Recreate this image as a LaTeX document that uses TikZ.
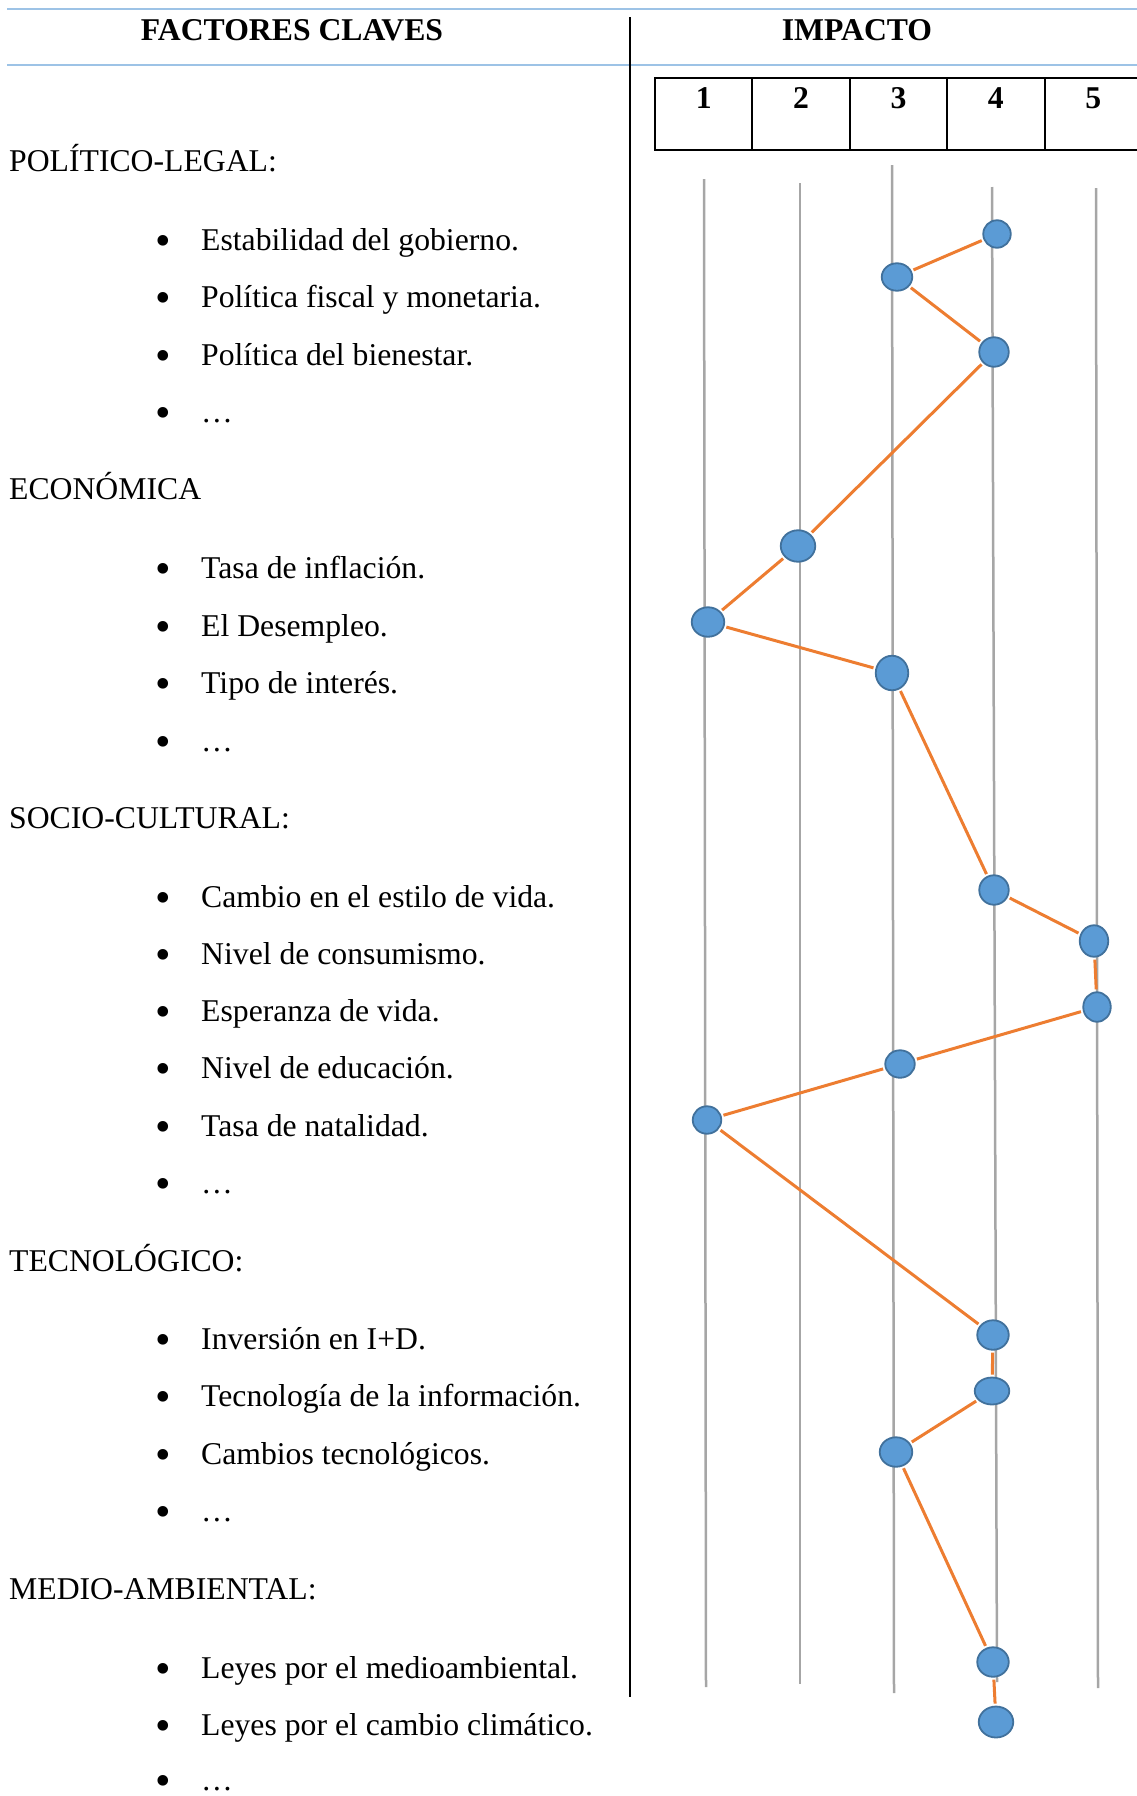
\documentclass[tikz,border=0pt]{standalone}
\usepackage{fontspec}
\setmainfont{Liberation Serif}
\usetikzlibrary{positioning}
\usetikzlibrary{shapes.geometric}

\definecolor{headblue}{HTML}{9DC3E6}
\definecolor{dotblue}{HTML}{5B9BD5}
\definecolor{dotedge}{HTML}{41719C}
\definecolor{linkorange}{HTML}{ED7D31}
\definecolor{gridgray}{HTML}{A6A6A6}

\newcommand{\blt}{\makebox[46pt][l]{\raisebox{-5pt}{\scalebox{1.4}{\textbullet}}}}

\begin{document}
\begin{tikzpicture}[x=1pt, y=-1pt,
    every node/.style={font=\fontsize{31.7}{38}\selectfont},
    heading/.style={anchor=base west, inner sep=0pt},
    item/.style={anchor=base west, inner sep=0pt},
    title/.style={anchor=base, inner sep=0pt, font=\fontsize{31.7}{38}\selectfont\bfseries},
    cell/.style={rectangle, draw=black, line width=2pt, outer sep=0pt, inner sep=0pt,
        minimum width=97.4pt, minimum height=72pt, text height=30pt, text depth=42pt,
        font=\fontsize{31.7}{38}\selectfont\bfseries},
    impdot/.style 2 args={ellipse, draw=dotedge, line width=1.8pt, fill=dotblue,
        minimum width=#1, minimum height=#2, inner sep=0pt},
    link/.style={draw=linkorange, line width=3pt, shorten <=2pt, shorten >=2pt},
    gridline/.style={draw=gridgray, line width=2.5pt},
    rule/.style={draw=headblue, line width=2.2pt}]
    \useasboundingbox (0,0) rectangle (1137,1796);

    % table head
    \draw [rule] (7,9) -- (1137,9);
    \draw [rule] (7,65) -- (1137,65);
    \draw [black, line width=1.5pt] (630,17) -- (630,1697);
    \node (factores) [title] at (292,40) {FACTORES CLAVES};
    \node (impacto) [title] at (857,40) {IMPACTO};

    % scale 1..5
    \node (c1) [cell] at (703.7,114) {1};
    \node (c2) [cell, right=0pt of c1] {2};
    \node (c3) [cell, right=0pt of c2] {3};
    \node (c4) [cell, right=0pt of c3] {4};
    \node (c5) [cell, right=0pt of c4] {5};

    % factors
    \node (hPL) [heading] at (9,171) {POLÍTICO-LEGAL:};
    \node (pl1) [item] at (155,250) {\blt Estabilidad del gobierno.};
    \node (pl2) [item] at (155,307.5) {\blt Política fiscal y monetaria.};
    \node (pl3) [item] at (155,365) {\blt Política del bienestar.};
    \node (pl4) [item] at (155,422.5) {\blt …};

    \node (hEC) [heading] at (9,499.5) {ECONÓMICA};
    \node (ec1) [item] at (155,578.5) {\blt Tasa de inflación.};
    \node (ec2) [item] at (155,636) {\blt El Desempleo.};
    \node (ec3) [item] at (155,693.5) {\blt Tipo de interés.};
    \node (ec4) [item] at (155,751) {\blt …};

    \node (hSC) [heading] at (9,828) {SOCIO-CULTURAL:};
    \node (sc1) [item] at (155,907) {\blt Cambio en el estilo de vida.};
    \node (sc2) [item] at (155,964) {\blt Nivel de consumismo.};
    \node (sc3) [item] at (155,1021) {\blt Esperanza de vida.};
    \node (sc4) [item] at (155,1078) {\blt Nivel de educación.};
    \node (sc5) [item] at (155,1136) {\blt Tasa de natalidad.};
    \node (sc6) [item] at (155,1193.5) {\blt …};

    \node (hTE) [heading] at (9,1271) {TECNOLÓGICO:};
    \node (te1) [item] at (155,1349) {\blt Inversión en I+D.};
    \node (te2) [item] at (155,1406.5) {\blt Tecnología de la información.};
    \node (te3) [item] at (155,1464) {\blt Cambios tecnológicos.};
    \node (te4) [item] at (155,1521.5) {\blt …};

    \node (hMA) [heading] at (9,1599) {MEDIO-AMBIENTAL:};
    \node (ma1) [item] at (155,1678) {\blt Leyes por el medioambiental.};
    \node (ma2) [item] at (155,1735.5) {\blt Leyes por el cambio climático.};
    \node (ma3) [item] at (155,1790) {\blt …};

    % impact scale lines
    \draw [gridline] (704,179) -- (706,1687);
    \draw [gridline] (800,183) -- (800,1684);
    \draw [gridline] (892,165) -- (894,1693);
    \draw [gridline] (992,187) -- (997,1682);
    \draw [gridline] (1096,188) -- (1098,1688);

    % impact points
    \node (d1) [impdot={27.5}{27.5}] at (997,234) {};
    \node (d2) [impdot={30.5}{27.5}] at (897,277) {};
    \node (d3) [impdot={29.5}{29.5}] at (994,352) {};
    \node (d4) [impdot={34.5}{31.5}] at (798,546) {};
    \node (d5) [impdot={32.5}{29.5}] at (708,622) {};
    \node (d6) [impdot={32.5}{34.5}] at (892,673) {};
    \node (d7) [impdot={29.5}{29.5}] at (994,890) {};
    \node (d8) [impdot={28.5}{31.5}] at (1094,941) {};
    \node (d9) [impdot={27.5}{29.5}] at (1097,1007) {};
    \node (d10) [impdot={29.5}{27.5}] at (900,1064) {};
    \node (d11) [impdot={28.5}{27.5}] at (707,1120) {};
    \node (d12) [impdot={31.5}{29.5}] at (993,1335) {};
    \node (d13) [impdot={34.5}{27}] at (992,1391) {};
    \node (d14) [impdot={32.5}{29.5}] at (896,1452) {};
    \node (d15) [impdot={31.5}{29.5}] at (993,1662) {};
    \node (d16) [impdot={34.5}{31}] at (996,1722) {};

    \draw [link] (d1) -- (d2);
    \draw [link] (d2) -- (d3);
    \draw [link] (d3) -- (d4);
    \draw [link] (d4) -- (d5);
    \draw [link] (d5) -- (d6);
    \draw [link] (d6) -- (d7);
    \draw [link] (d7) -- (d8);
    \draw [link] (d8) -- (d9);
    \draw [link] (d9) -- (d10);
    \draw [link] (d10) -- (d11);
    \draw [link] (d11) -- (d12);
    \draw [link] (d12) -- (d13);
    \draw [link] (d13) -- (d14);
    \draw [link] (d14) -- (d15);
    \draw [link] (d15) -- (d16);
\end{tikzpicture}
\end{document}
